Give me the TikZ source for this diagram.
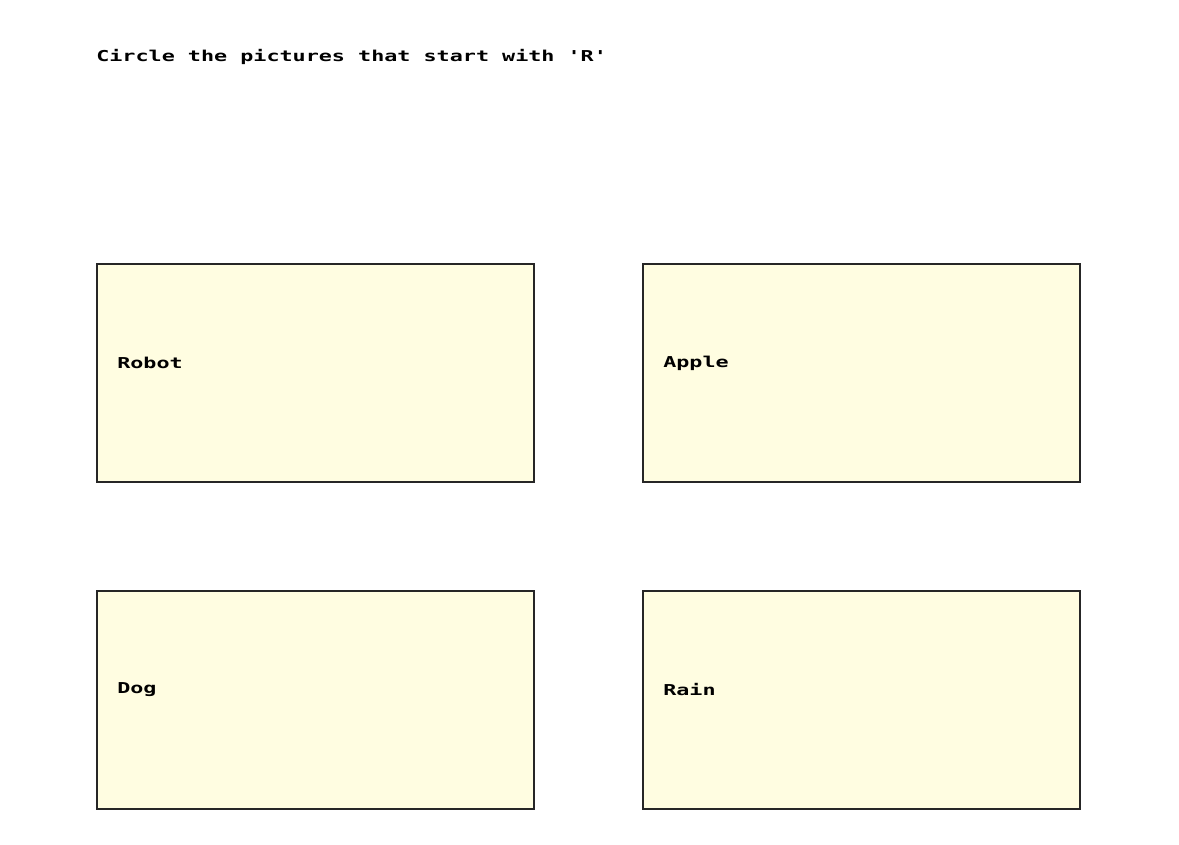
\documentclass[tikz,border=0pt]{standalone}
\usepackage{fontspec}
\setmonofont{DejaVu Sans Mono}
\definecolor{boxfill}{HTML}{FFFDE1}
\begin{document}
\begin{tikzpicture}[x=1pt,y=-1pt,
  card/.style={draw=black!85,line width=1.2pt,fill=boxfill},
  lbl/.style={anchor=west,font=\ttfamily\bfseries\fontsize{15}{17}\selectfont,inner sep=0pt,xscale=1.45}]
\useasboundingbox (0,0) rectangle (1179,845);
\node[lbl] (title) at (96,57) {Circle the pictures that start with 'R'};
\draw[card] (97,264) rectangle (534,482) coordinate (b1);
\draw[card] (643,264) rectangle (1080,482) coordinate (b2);
\draw[card] (97,591) rectangle (534,809) coordinate (b3);
\draw[card] (643,591) rectangle (1080,809) coordinate (b4);
\node[lbl] (t1) at (117,363) {Robot};
\node[lbl] (t2) at (663,363) {Apple};
\node[lbl] (t3) at (117,690) {Dog};
\node[lbl] (t4) at (663,690) {Rain};
\end{tikzpicture}
\end{document}
